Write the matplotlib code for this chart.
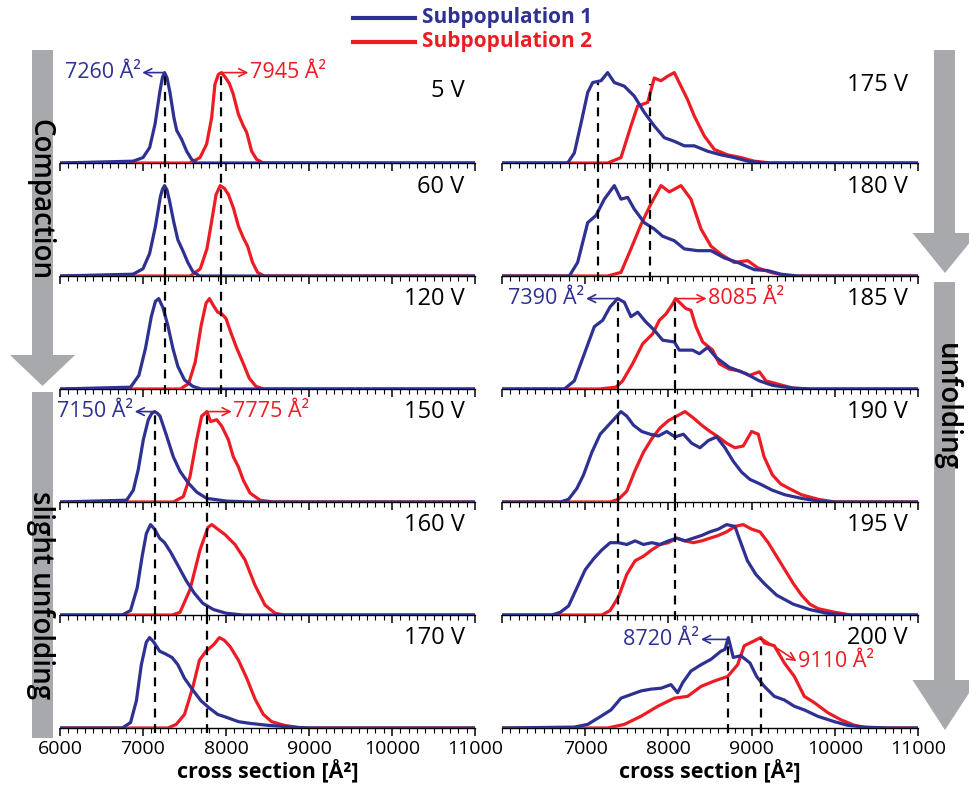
import numpy as np
import matplotlib
matplotlib.use('Agg')
import matplotlib.pyplot as plt
from matplotlib.patches import Polygon, Rectangle
from matplotlib.ticker import MultipleLocator

plt.rcParams['font.family'] = ['Open Sans', 'DejaVu Sans']

BLUE = '#2e3192'
RED = '#ed1c24'
GREY = '#a7a9ac'

# ---- data: relative intensity vs cross section (A^2) ----
v5_blue_x = [6880, 7000, 7080, 7145, 7205, 7235, 7260, 7290, 7325, 7373, 7406, 7466, 7526, 7586, 7647]
v5_blue_y = [0.02, 0.06, 0.17, 0.43, 0.80, 0.95, 1.00, 0.94, 0.78, 0.50, 0.36, 0.26, 0.13, 0.04, 0.0]
v5_red_x = [7566, 7687, 7767, 7827, 7867, 7908, 7945, 7990, 8040, 8088, 8149, 8209, 8249, 8309, 8369, 8450]
v5_red_y = [0.0, 0.06, 0.21, 0.50, 0.87, 0.98, 1.00, 0.95, 0.88, 0.76, 0.54, 0.41, 0.34, 0.13, 0.04, 0.0]

v60_blue_x = [6880, 7000, 7080, 7150, 7210, 7235, 7260, 7290, 7320, 7370, 7420, 7480, 7540, 7600, 7680]
v60_blue_y = [0.02, 0.08, 0.25, 0.55, 0.88, 0.96, 1.00, 0.95, 0.83, 0.60, 0.40, 0.28, 0.15, 0.05, 0.0]
v60_red_x = [7570, 7690, 7770, 7830, 7880, 7930, 7980, 8030, 8090, 8150, 8210, 8260, 8320, 8380, 8460]
v60_red_y = [0.0, 0.08, 0.30, 0.62, 0.90, 1.00, 0.97, 0.90, 0.75, 0.55, 0.42, 0.33, 0.15, 0.04, 0.0]

v120_blue_x = [6850, 6950, 7030, 7100, 7150, 7190, 7240, 7300, 7360, 7420, 7500, 7600, 7700]
v120_blue_y = [0.02, 0.15, 0.45, 0.80, 0.97, 1.00, 0.90, 0.70, 0.45, 0.25, 0.10, 0.03, 0.0]
v120_red_x = [7450, 7550, 7630, 7700, 7760, 7800, 7850, 7900, 7950, 8000, 8060, 8130, 8200, 8280, 8360, 8450]
v120_red_y = [0.0, 0.06, 0.30, 0.70, 0.95, 1.00, 0.92, 0.85, 0.83, 0.78, 0.62, 0.45, 0.30, 0.12, 0.03, 0.0]

v150_blue_x = [6803, 6883, 6943, 7004, 7064, 7105, 7140, 7175, 7205, 7285, 7365, 7446, 7546, 7647, 7767, 8008, 8300]
v150_blue_y = [0.02, 0.13, 0.36, 0.69, 0.91, 0.98, 1.00, 0.98, 0.95, 0.73, 0.50, 0.34, 0.21, 0.11, 0.04, 0.01, 0.0]
v150_red_x = [7365, 7486, 7566, 7647, 7707, 7770, 7815, 7888, 7948, 8028, 8088, 8149, 8209, 8289, 8410, 8570]
v150_red_y = [0.0, 0.06, 0.28, 0.69, 0.95, 1.00, 0.89, 0.91, 0.84, 0.69, 0.50, 0.39, 0.24, 0.10, 0.02, 0.0]

v160_blue_x = [6750, 6850, 6930, 6990, 7040, 7090, 7140, 7200, 7260, 7330, 7420, 7520, 7620, 7720, 7850, 8000, 8200]
v160_blue_y = [0.0, 0.05, 0.30, 0.65, 0.90, 1.00, 0.95, 0.85, 0.80, 0.70, 0.55, 0.38, 0.24, 0.13, 0.06, 0.02, 0.0]
v160_red_x = [7350, 7446, 7566, 7687, 7783, 7830, 7900, 7988, 8108, 8229, 8349, 8470, 8590, 8700]
v160_red_y = [0.0, 0.03, 0.28, 0.72, 0.97, 1.00, 0.95, 0.89, 0.78, 0.61, 0.33, 0.11, 0.02, 0.0]

v170_blue_x = [6750, 6850, 6920, 6980, 7040, 7080, 7130, 7200, 7270, 7350, 7420, 7500, 7600, 7700,
               7800, 7900, 8000, 8150, 8300, 8500, 8800, 9000]
v170_blue_y = [0.0, 0.06, 0.30, 0.70, 0.95, 1.00, 0.95, 0.85, 0.82, 0.78, 0.70, 0.55, 0.42, 0.30,
               0.22, 0.15, 0.12, 0.07, 0.05, 0.03, 0.01, 0.0]
v170_red_x = [7300, 7400, 7500, 7600, 7680, 7760, 7850, 7920, 7980, 8050, 8150, 8250, 8350, 8450, 8550, 8700, 8900]
v170_red_y = [0.0, 0.04, 0.15, 0.45, 0.75, 0.85, 0.92, 1.00, 0.97, 0.90, 0.75, 0.55, 0.32, 0.15, 0.07, 0.03, 0.0]

v175_blue_x = [6789, 6869, 6950, 7030, 7090, 7190, 7270, 7350, 7470, 7590, 7710, 7830, 7951, 8071,
               8191, 8311, 8472, 8632, 8792, 8953, 9153]
v175_blue_y = [0.0, 0.11, 0.44, 0.78, 0.89, 0.91, 1.00, 0.89, 0.85, 0.74, 0.56, 0.41, 0.28, 0.24,
               0.19, 0.19, 0.13, 0.09, 0.06, 0.02, 0.0]
v175_red_x = [7270, 7430, 7550, 7630, 7751, 7830, 7911, 7991, 8071, 8151, 8231, 8311, 8431, 8552,
              8712, 8873, 9033, 9233]
v175_red_y = [0.0, 0.06, 0.41, 0.63, 0.67, 0.94, 0.91, 0.96, 1.00, 0.85, 0.70, 0.52, 0.30, 0.15,
              0.09, 0.06, 0.02, 0.0]

v180_blue_x = [6809, 6909, 7030, 7130, 7230, 7350, 7430, 7510, 7590, 7710, 7830, 7931, 8071, 8191,
               8352, 8512, 8672, 8832, 9033, 9193, 9353, 9553]
v180_blue_y = [0.0, 0.15, 0.59, 0.67, 0.85, 1.00, 0.85, 0.87, 0.74, 0.59, 0.52, 0.44, 0.39, 0.30,
               0.28, 0.28, 0.20, 0.15, 0.07, 0.06, 0.02, 0.0]
v180_red_x = [7270, 7430, 7550, 7671, 7791, 7911, 8011, 8151, 8271, 8392, 8512, 8632, 8792, 8953,
              9073, 9233, 9433]
v180_red_y = [0.0, 0.04, 0.30, 0.57, 0.80, 1.00, 0.93, 1.00, 0.85, 0.52, 0.33, 0.24, 0.15, 0.17,
              0.09, 0.04, 0.0]

v185_blue_x = [6749, 6869, 6990, 7110, 7210, 7300, 7390, 7470, 7550, 7631, 7731, 7831, 7931, 8071,
               8131, 8291, 8372, 8472, 8572, 8732, 8932, 9093, 9253, 9494, 9700]
v185_blue_y = [0.0, 0.09, 0.39, 0.69, 0.76, 0.91, 1.00, 0.96, 0.80, 0.85, 0.74, 0.65, 0.54, 0.52,
               0.43, 0.43, 0.39, 0.46, 0.35, 0.24, 0.17, 0.09, 0.04, 0.01, 0.0]
v185_red_x = [7169, 7370, 7450, 7570, 7691, 7811, 7891, 7971, 8051, 8085, 8211, 8271, 8331, 8412,
              8532, 8612, 8732, 8852, 8973, 9093, 9173, 9333, 9494, 9700]
v185_red_y = [0.0, 0.02, 0.09, 0.28, 0.50, 0.61, 0.76, 0.83, 0.94, 1.00, 0.89, 0.87, 0.69, 0.52,
              0.43, 0.28, 0.22, 0.20, 0.15, 0.19, 0.09, 0.05, 0.01, 0.0]

v190_blue_x = [6700, 6800, 6900, 6980, 7080, 7180, 7280, 7350, 7430, 7500, 7580, 7680, 7780, 7880,
               7980, 8080, 8180, 8280, 8380, 8480, 8580, 8680, 8780, 8880, 8980, 9100, 9250, 9400,
               9600, 9800, 10000]
v190_blue_y = [0.0, 0.03, 0.15, 0.30, 0.55, 0.75, 0.85, 0.92, 1.00, 0.95, 0.85, 0.78, 0.75, 0.73,
               0.78, 0.72, 0.75, 0.65, 0.60, 0.68, 0.72, 0.60, 0.45, 0.33, 0.25, 0.20, 0.13, 0.08,
               0.04, 0.01, 0.0]
v190_red_x = [7300, 7400, 7500, 7600, 7700, 7800, 7900, 8000, 8100, 8200, 8300, 8400, 8500, 8600,
              8700, 8800, 8900, 9000, 9080, 9150, 9250, 9350, 9450, 9600, 9800, 10000]
v190_red_y = [0.0, 0.03, 0.12, 0.35, 0.55, 0.70, 0.82, 0.90, 0.95, 1.00, 0.93, 0.85, 0.78, 0.72,
              0.65, 0.60, 0.62, 0.78, 0.75, 0.50, 0.30, 0.20, 0.15, 0.08, 0.03, 0.0]

v195_blue_x = [6600, 6700, 6800, 6900, 7000, 7100, 7200, 7300, 7400, 7500, 7600, 7700, 7800, 7900,
               8000, 8100, 8200, 8300, 8400, 8500, 8600, 8700, 8800, 8850, 8950, 9050, 9150, 9300,
               9500, 9700, 9900, 10100]
v195_blue_y = [0.0, 0.03, 0.10, 0.30, 0.50, 0.62, 0.72, 0.80, 0.80, 0.78, 0.82, 0.78, 0.80, 0.78,
               0.82, 0.85, 0.82, 0.85, 0.88, 0.92, 0.95, 1.00, 0.98, 0.85, 0.60, 0.45, 0.35, 0.22,
               0.12, 0.06, 0.02, 0.0]
v195_red_x = [7200, 7300, 7400, 7500, 7600, 7700, 7800, 7900, 8000, 8100, 8200, 8300, 8400, 8500,
              8600, 8700, 8800, 8900, 9000, 9100, 9200, 9300, 9400, 9500, 9600, 9700, 9800, 10000, 10200]
v195_red_y = [0.0, 0.05, 0.20, 0.45, 0.60, 0.65, 0.72, 0.78, 0.80, 0.85, 0.82, 0.80, 0.82, 0.85,
              0.88, 0.92, 0.98, 1.00, 0.95, 0.92, 0.80, 0.65, 0.50, 0.35, 0.22, 0.12, 0.07, 0.03, 0.0]

v200_blue_x = [6869, 7030, 7190, 7310, 7430, 7550, 7671, 7791, 7911, 8031, 8111, 8171, 8271, 8392,
               8512, 8632, 8680, 8720, 8780, 8870, 8980, 9060, 9153, 9273, 9393, 9514, 9634, 9794,
               9995, 10155, 10355, 10636]
v200_blue_y = [0.01, 0.04, 0.13, 0.20, 0.33, 0.37, 0.41, 0.43, 0.44, 0.48, 0.39, 0.50, 0.63, 0.70,
               0.76, 0.85, 0.87, 1.00, 0.78, 0.80, 0.72, 0.57, 0.46, 0.35, 0.31, 0.24, 0.20, 0.13,
               0.07, 0.03, 0.01, 0.0]
v200_red_x = [7270, 7470, 7671, 7871, 8071, 8231, 8392, 8552, 8712, 8832, 8912, 9110, 9153, 9273,
              9393, 9514, 9634, 9754, 9915, 10075, 10235, 10395]
v200_red_y = [0.0, 0.04, 0.13, 0.24, 0.33, 0.35, 0.46, 0.52, 0.57, 0.70, 0.91, 1.00, 0.94, 0.91,
              0.72, 0.57, 0.35, 0.28, 0.17, 0.09, 0.03, 0.0]

left_labels = ['5 V', '60 V', '120 V', '150 V', '160 V', '170 V']
right_labels = ['175 V', '180 V', '185 V', '190 V', '195 V', '200 V']
left_curves = [(v5_blue_x, v5_blue_y, v5_red_x, v5_red_y),
               (v60_blue_x, v60_blue_y, v60_red_x, v60_red_y),
               (v120_blue_x, v120_blue_y, v120_red_x, v120_red_y),
               (v150_blue_x, v150_blue_y, v150_red_x, v150_red_y),
               (v160_blue_x, v160_blue_y, v160_red_x, v160_red_y),
               (v170_blue_x, v170_blue_y, v170_red_x, v170_red_y)]
right_curves = [(v175_blue_x, v175_blue_y, v175_red_x, v175_red_y),
                (v180_blue_x, v180_blue_y, v180_red_x, v180_red_y),
                (v185_blue_x, v185_blue_y, v185_red_x, v185_red_y),
                (v190_blue_x, v190_blue_y, v190_red_x, v190_red_y),
                (v195_blue_x, v195_blue_y, v195_red_x, v195_red_y),
                (v200_blue_x, v200_blue_y, v200_red_x, v200_red_y)]
label_y = [0.80, 0.98, 1.0, 1.0, 1.0, 1.0]
label_y_r = [0.86, 0.98, 1.0, 1.0, 1.0, 1.0]

# peak markers (dashed lines): (first row, last row, blue value, red value, start heights)
left_marks = [(0, 2, 7260, 7945, 1.0, 1.0), (3, 5, 7150, 7775, 1.0, 1.0)]
right_marks = [(0, 1, 7150, 7775, 0.89, 0.87), (2, 4, 7390, 8085, 1.0, 1.0), (5, 5, 8720, 9110, 0.98, 1.0)]

W, H = 969, 787
fig = plt.figure(figsize=(W / 100, H / 100), dpi=100)
YMAX = 1.25


def make_col(x0, x1, curves, labels, ly, first_label=True):
    axs = []
    for i, (bx, by, rx, ry) in enumerate(curves):
        base = 163 + 113 * i
        ax = fig.add_axes([x0 / W, (H - base) / H, (x1 - x0) / W, 113 / H])
        ax.set_facecolor('none')
        ax.plot([6000] + rx + [11000], [0] + ry + [0], color=RED, lw=2.3, zorder=3, solid_joinstyle='round')
        ax.plot([6000] + bx + [11000], [0] + by + [0], color=BLUE, lw=2.3, zorder=4, solid_joinstyle='round')
        ax.set_xlim(6000, 11000)
        ax.set_ylim(0, YMAX)
        for s in ['top', 'left', 'right']:
            ax.spines[s].set_visible(False)
        ax.spines['bottom'].set_linewidth(1.0)
        ax.set_yticks([])
        ax.xaxis.set_major_locator(MultipleLocator(1000))
        ax.xaxis.set_minor_locator(MultipleLocator(100))
        ax.tick_params(axis='x', which='major', direction='out', length=6, width=1.1, labelsize=14, pad=3)
        ax.tick_params(axis='x', which='minor', direction='out', length=3.5, width=0.8)
        if i < len(curves) - 1:
            ax.tick_params(axis='x', labelbottom=False)
        else:
            ax.set_xlabel('cross section [Å²]', fontsize=15.5, fontweight='bold', labelpad=1)
            if not first_label:
                ax.set_xticks(range(7000, 12000, 1000))
        ax.text(0.975, ly[i] / YMAX, labels[i], transform=ax.transAxes, ha='right', va='center', fontsize=17)
        axs.append(ax)
    return axs


L = make_col(60, 475, left_curves, left_labels, label_y)
R = make_col(502, 918, right_curves, right_labels, label_y_r, first_label=False)


def dashes(axs, marks):
    for first, last, xb, xr, hb, hr in marks:
        for k in range(first, last + 1):
            lo = -0.04 if k == last else 0
            for xv, hv in ((xb, hb), (xr, hr)):
                top = hv / YMAX if k == first else 1.0
                axs[k].axvline(xv, ymin=lo, ymax=top, color='black', ls=(0, (4, 3)), lw=1.6,
                               zorder=5, clip_on=False)


dashes(L, left_marks)
dashes(R, right_marks)

arr = dict(arrowstyle='->', lw=1.2, shrinkA=0, shrinkB=0, mutation_scale=14)


def note(ax, xpk, ypk, xt, yt, s, c, ha):
    ax.annotate('', xy=(xt, yt), xytext=(xpk, ypk), arrowprops=dict(arr, color=c), zorder=6)
    off = -20 if ha == 'right' else 20
    ax.text(xt + off, yt, s, color=c, ha=ha, va='center', fontsize=15.5, zorder=6)


note(L[0], 7260, 1.0, 6990, 1.0, '7260 Å²', BLUE, 'right')
note(L[0], 7945, 1.0, 8270, 1.0, '7945 Å²', RED, 'left')
note(L[3], 7150, 1.0, 6900, 1.0, '7150 Å²', BLUE, 'right')
note(L[3], 7775, 1.0, 8070, 1.0, '7775 Å²', RED, 'left')
note(R[2], 7390, 1.0, 7010, 1.0, '7390 Å²', BLUE, 'right')
note(R[2], 8085, 1.0, 8460, 1.0, '8085 Å²', RED, 'left')
note(R[5], 8720, 0.98, 8390, 0.98, '8720 Å²', BLUE, 'right')
note(R[5], 9110, 1.0, 9540, 0.74, '9110 Å²', RED, 'left')

# overlay in pixel coordinates for the grey arrows and the legend
ov = fig.add_axes([0, 0, 1, 1])
ov.set_xlim(0, W)
ov.set_ylim(H, 0)
ov.axis('off')
ov.set_zorder(-1)


def grey_arrow(cx, y0, y1, head_base, tip, half=10.5, head=32.5):
    ov.add_patch(Rectangle((cx - half, y0), 2 * half, (head_base if tip else y1) - y0, color=GREY, lw=0))
    if tip:
        ov.add_patch(Polygon([(cx - head, head_base), (cx + head, head_base), (cx, tip)], color=GREY, lw=0))


grey_arrow(42.5, 50, None, 355, 386)
grey_arrow(42.5, 392, 738, None, None)
grey_arrow(945, 50, None, 233, 273)
grey_arrow(945, 282, None, 680, 730)

ov.text(40, 200, 'Compaction', rotation=-90, ha='center', va='center', fontsize=20, fontweight='semibold')
ov.text(40, 595, 'slight unfolding', rotation=-90, ha='center', va='center', fontsize=20, fontweight='semibold')
ov.text(946, 407, 'unfolding', rotation=-90, ha='center', va='center', fontsize=20, fontweight='semibold')

ov.plot([353, 415], [18, 18], color=BLUE, lw=3)
ov.plot([353, 415], [42, 42], color=RED, lw=3)
ov.text(422, 18, 'Subpopulation 1', color=BLUE, ha='left', va='center', fontsize=15, fontweight='bold')
ov.text(422, 42, 'Subpopulation 2', color=RED, ha='left', va='center', fontsize=15, fontweight='bold')

fig.savefig('out.png', dpi=100)
